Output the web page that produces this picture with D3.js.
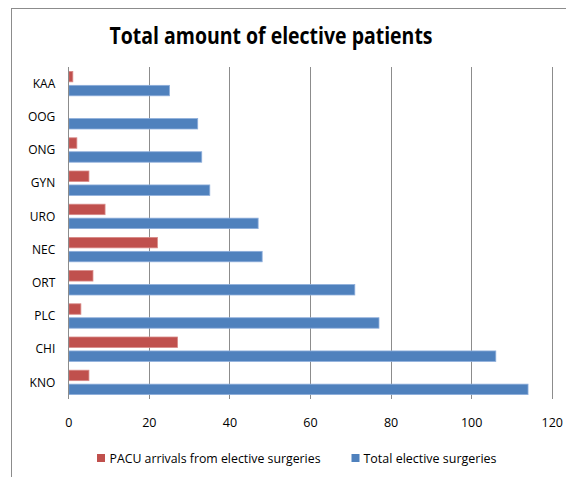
<!DOCTYPE html>
<html>
<head>
<meta charset="utf-8">
<script src="https://cdn.jsdelivr.net/npm/d3@7/dist/d3.min.js"></script>
<style>
  html, body { margin: 0; padding: 0; background: #fff; }
  svg { display: block; }
  text { font-family: "Open Sans", "Noto Sans", sans-serif; fill: #000; }
</style>
</head>
<body>
<svg id="chart" width="566" height="477"></svg>
<script>
// Surgical specialties, listed top to bottom
const categories = ["KAA", "OOG", "ONG", "GYN", "URO", "NEC", "ORT", "PLC", "CHI", "KNO"];
const seriesNames = ["PACU arrivals from elective surgeries", "Total elective surgeries"];
const pacuArrivals = [1, 0, 2, 5, 9, 22, 6, 3, 27, 5];
const totalSurgeries = [25, 32, 33, 35, 47, 48, 71, 77, 106, 114];
const xTicks = [0, 20, 40, 60, 80, 100, 120];
const seriesColors = ["#C0504D", "#4F81BD"];
const seriesStroke = ["#D88A88", "#8EAEDB"];

const svg = d3.select("#chart");

// outer chart frame
svg.append("rect")
  .attr("x", 11.5).attr("y", 8.5)
  .attr("width", 600).attr("height", 520)
  .attr("fill", "#fff").attr("stroke", "#8C8C8C").attr("stroke-width", 1);

const plot = { left: 68.3, right: 551.7, top: 67, bottom: 399 };

const x = d3.scaleLinear().domain([0, 120]).range([plot.left, plot.right]);
const y = d3.scaleBand().domain(categories)
  .range([plot.top, plot.bottom])
  .paddingInner(0.265).paddingOuter(0.1325);
const ySub = d3.scaleBand().domain([0, 1])
  .range([0, y.bandwidth()]).paddingInner(0.25);

// vertical gridlines
svg.append("g")
  .selectAll("line")
  .data(xTicks)
  .join("line")
  .attr("x1", d => Math.round(x(d)) + 0.5).attr("x2", d => Math.round(x(d)) + 0.5)
  .attr("y1", plot.top).attr("y2", plot.bottom)
  .attr("stroke", "#8C8C8C").attr("stroke-width", 1);

// bars
const rows = categories.map((c, i) => ({ cat: c, vals: [pacuArrivals[i], totalSurgeries[i]] }));
const groups = svg.append("g").selectAll("g")
  .data(rows)
  .join("g")
  .attr("transform", d => `translate(0,${y(d.cat)})`);

groups.selectAll("rect")
  .data(d => d.vals.map((v, s) => ({ v, s })).filter(e => e.v > 0))
  .join("rect")
  .attr("x", x(0) + 0.5)
  .attr("y", d => ySub(d.s))
  .attr("width", d => x(d.v) - x(0))
  .attr("height", ySub.bandwidth())
  .attr("fill", d => seriesColors[d.s])
  .attr("stroke", d => seriesStroke[d.s])
  .attr("stroke-width", 0.8);

// x axis tick labels
const xAxis = d3.axisBottom(x).tickValues(xTicks).tickSize(0).tickPadding(0);
const xg = svg.append("g")
  .attr("transform", `translate(0,${plot.bottom})`)
  .call(xAxis);
xg.select(".domain").remove();
xg.selectAll("text")
  .attr("y", 27.5).attr("dy", null)
  .style("font-size", "12.5px").style("fill", "#000");

// y axis category labels
const yAxis = d3.axisLeft(y).tickSize(0).tickPadding(13);
const yg = svg.append("g")
  .attr("transform", `translate(${plot.left},0)`)
  .call(yAxis);
yg.select(".domain").remove();
yg.selectAll("text")
  .attr("dy", "0.35em")
  .style("font-size", "12px").style("fill", "#000");

// axis line at zero
svg.append("line")
  .attr("x1", Math.round(x(0)) + 0.5).attr("x2", Math.round(x(0)) + 0.5)
  .attr("y1", plot.top).attr("y2", plot.bottom)
  .attr("stroke", "#8C8C8C");

// title
svg.append("text")
  .attr("x", 271).attr("y", 43.5)
  .attr("text-anchor", "middle")
  .attr("textLength", 323)
  .attr("lengthAdjust", "spacingAndGlyphs")
  .style("font-weight", "bold")
  .style("font-size", "23px")
  .text("Total amount of elective patients");

// legend
const legendItems = [
  { name: seriesNames[0], sx: 97, tx: 109.5, w: 211 },
  { name: seriesNames[1], sx: 351.5, tx: 363.5, w: 133 }
];
const lg = svg.append("g");
legendItems.forEach((d, i) => {
  lg.append("rect")
    .attr("x", d.sx).attr("y", 454)
    .attr("width", 8).attr("height", 8)
    .attr("fill", seriesColors[i]);
  lg.append("text")
    .attr("x", d.tx).attr("y", 462.5)
    .attr("textLength", d.w)
    .attr("lengthAdjust", "spacingAndGlyphs")
    .style("font-size", "12px")
    .text(d.name);
});
</script>
</body>
</html>
